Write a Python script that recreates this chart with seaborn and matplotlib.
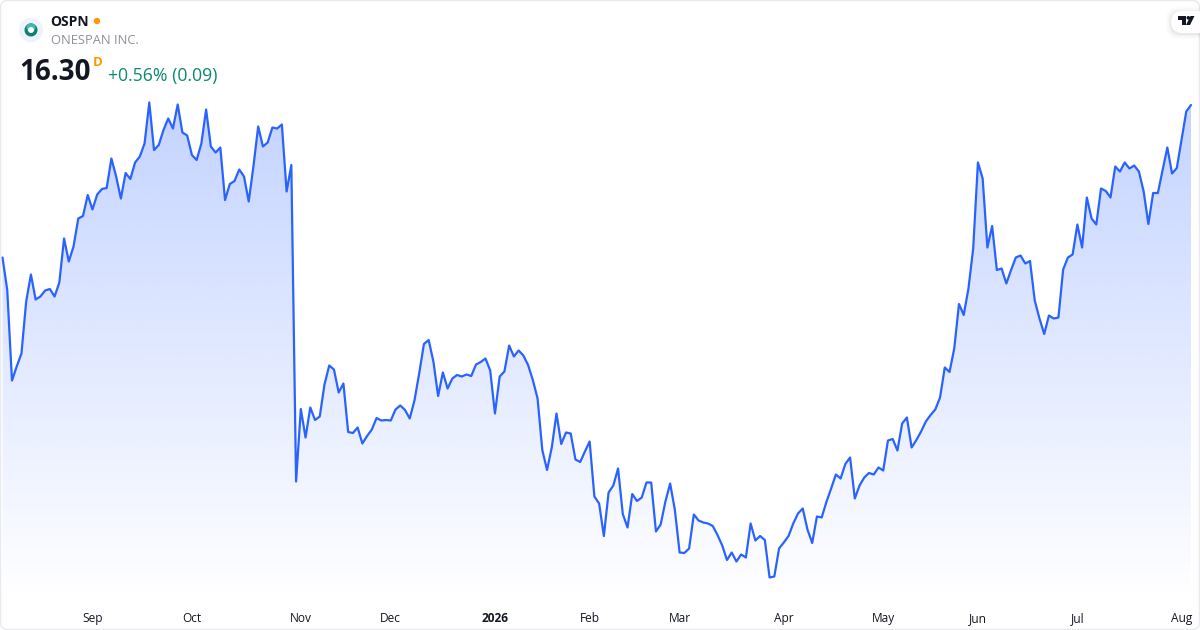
import matplotlib
matplotlib.use("Agg")
import matplotlib.pyplot as plt
from matplotlib.colors import to_rgb
from matplotlib.patches import Circle, FancyBboxPatch, Polygon
import seaborn as sns
import pandas as pd
import numpy as np

# Daily closes (first row starts 5 Aug 2025)
closes = [
    13.25, 12.60, 10.79, 11.07, 11.33, 12.37, 12.91, 12.41, 12.47, 12.59, 12.62, 12.47,
    12.75, 13.63, 13.17, 13.47, 14.03, 14.08, 14.50, 14.21, 14.51, 14.62, 14.64, 15.23,
    14.87, 14.43, 14.94, 14.82, 15.15, 15.27, 15.53, 16.35, 15.40, 15.50, 15.80, 16.03,
    15.83, 16.31, 15.75, 15.69, 15.30, 15.20, 15.53, 16.21, 15.47, 15.35, 15.45, 14.40,
    14.72, 14.78, 15.01, 14.87, 14.37, 15.08, 15.87, 15.47, 15.55, 15.85, 15.83, 15.91,
    14.57, 15.10, 8.77, 10.22, 9.65, 10.25, 10.00, 10.07, 10.71, 11.09, 11.01, 10.55,
    10.73, 9.76, 9.74, 9.85, 9.53, 9.68, 9.81, 10.04, 9.99, 10.00, 9.99, 10.21,
    10.29, 10.20, 10.03, 10.39, 10.93, 11.52, 11.60, 11.17, 10.48, 10.95, 10.63, 10.83,
    10.90, 10.87, 10.91, 10.88, 11.11, 11.16, 11.23, 10.99, 10.13, 10.87, 10.97, 11.49,
    11.27, 11.39, 11.29, 11.10, 10.80, 10.43, 9.40, 9.00, 9.45, 10.13, 9.52, 9.75,
    9.73, 9.21, 9.16, 9.37, 9.57, 8.47, 8.33, 7.68, 8.55, 8.69, 9.03, 8.12,
    7.85, 8.52, 8.38, 8.45, 8.75, 8.75, 7.77, 7.91, 8.37, 8.73, 8.20, 7.35,
    7.34, 7.43, 8.11, 7.99, 7.95, 7.93, 7.88, 7.70, 7.49, 7.20, 7.35, 7.17,
    7.31, 7.25, 7.93, 7.59, 7.68, 7.60, 6.85, 6.87, 7.43, 7.55, 7.68, 7.93,
    8.13, 8.23, 7.81, 7.54, 8.07, 8.05, 8.36, 8.63, 8.91, 8.83, 9.12, 9.25,
    8.43, 8.69, 8.85, 8.94, 8.91, 9.05, 8.99, 9.59, 9.62, 9.39, 9.93, 10.05,
    9.45, 9.60, 9.77, 9.97, 10.10, 10.21, 10.45, 11.05, 10.96, 11.43, 12.32, 12.10,
    12.63, 13.43, 15.15, 14.83, 13.45, 13.88, 13.00, 13.03, 12.73, 13.00, 13.25, 13.29,
    13.13, 13.18, 12.39, 12.03, 11.72, 12.09, 12.03, 12.05, 13.01, 13.25, 13.31, 13.91,
    13.45, 14.45, 14.03, 13.91, 14.63, 14.58, 14.45, 15.07, 14.97, 15.15, 15.03, 15.09,
    14.97, 14.57, 13.92, 14.54, 14.54, 15.00, 15.45, 14.93, 15.04, 15.61, 16.17, 16.30,
]
holidays = ["2025-09-01", "2025-11-27", "2025-12-25", "2026-01-01", "2026-01-19",
            "2026-02-16", "2026-04-03", "2026-05-25", "2026-06-19", "2026-07-03"]
month_names = ["Sep", "Oct", "Nov", "Dec", "2026", "Feb", "Mar", "Apr", "May", "Jun", "Jul", "Aug"]

dates = pd.bdate_range("2025-08-05", "2026-08-05", freq="C", holidays=holidays)
df = pd.DataFrame({"date": dates, "close": closes, "bar": range(len(closes))})

# first session of each month gets a tick
first_bars = df.groupby(df["date"].dt.to_period("M"))["bar"].min().iloc[1:]

sns.set_theme(style="white")
plt.rcParams["font.family"] = ["Open Sans", "DejaVu Sans"]

LINE = "#2962FF"
fig = plt.figure(figsize=(12, 6.3), dpi=100, facecolor="white")
ax = fig.add_axes([0, 0, 1, 1])

sns.lineplot(data=df, x="bar", y="close", color=LINE, linewidth=1.6, ax=ax, zorder=3)

x_lim = (-0.528, 252.9)
y_lim = (5.80, 18.40)

# area under the line: vertical gradient clipped to the polygon
fill = ax.fill_between(df["bar"], df["close"], 6.40, color="none", linewidth=0)
rgba = np.zeros((256, 1, 4))
rgba[..., :3] = to_rgb(LINE)
rgba[:, 0, 3] = np.linspace(0.28, 0.0, 256)
grad = ax.imshow(rgba, aspect="auto", extent=(x_lim[0], x_lim[1], 6.40, 16.40),
                 origin="upper", zorder=1, interpolation="bilinear")
grad.set_clip_path(fill.get_paths()[0], transform=ax.transData)

ax.set_xlim(*x_lim)
ax.set_ylim(*y_lim)
ax.set_yticks([])
ax.set_xlabel("")
ax.set_ylabel("")
ax.set_xticks(first_bars.values)
ax.set_xticklabels(month_names)
ax.tick_params(axis="x", direction="in", length=0, pad=-13, labelsize=8.6, labelcolor="#131722")
for lab in ax.get_xticklabels():
    if lab.get_text() == "2026":
        lab.set_fontweight("bold")
sns.despine(ax=ax, left=True, bottom=True)

# header, logo and frame on an overlay measured in pixels
ov = fig.add_axes([0, 0, 1, 1], facecolor="none")
ov.set_xlim(0, 1200)
ov.set_ylim(630, 0)
ov.axis("off")

ov.add_patch(FancyBboxPatch((0.5, 0.5), 1199, 629, boxstyle="round,pad=0,rounding_size=7",
                            fc="none", ec="#e8eaef", lw=1))

ov.add_patch(Circle((31, 30), 12, fc="#eef2f9", ec="none"))
ov.add_patch(Circle((31, 30), 6.5, fc="#0f7f74", ec="none"))
ov.add_patch(Circle((31, 27.5), 4.5, fc="#3fb8ae", ec="none"))
ov.add_patch(Circle((31, 30), 3, fc="white", ec="none"))

ov.text(50.5, 22, "OSPN", fontsize=10, fontweight="bold", color="#131722", va="center")
ov.add_patch(Circle((97, 21), 3.2, fc="#ff9800", ec="none"))
ov.text(51, 41, "ONESPAN INC.", fontsize=9.3, color="#8e9199", va="center")
ov.text(19, 73, "16.30", fontsize=20, fontweight="bold", color="#131722", va="center")
ov.text(93, 62.5, "D", fontsize=9.5, fontweight="bold", color="#ff9800", va="center")
ov.text(108, 76, "+0.56% (0.09)", fontsize=12.7, color="#0b8a6f", va="center")

# chart library badge, top right
for grow, a in [(5, 0.012), (3.5, 0.018), (2, 0.024), (1, 0.03)]:
    ov.add_patch(FancyBboxPatch((1171 - grow, 11 - grow + 1), 50 + grow, 22 + 2 * grow,
                                boxstyle="round,pad=0,rounding_size=11", fc="black", ec="none",
                                alpha=a))
ov.add_patch(FancyBboxPatch((1171, 11), 50, 22, boxstyle="round,pad=0,rounding_size=11",
                            fc="white", ec="none"))
ov.add_patch(Polygon([(1177.5, 16), (1186, 16), (1186, 25), (1181.5, 25), (1181.5, 19.5), (1177.5, 19.5)],
                     fc="#131722", ec="none"))
ov.add_patch(Circle((1188.3, 17.8), 1.8, fc="#131722", ec="none"))
ov.add_patch(Polygon([(1190.5, 16), (1194.5, 16), (1190, 25), (1186, 25)], fc="#131722", ec="none"))

fig.savefig("out.png", dpi=100)
